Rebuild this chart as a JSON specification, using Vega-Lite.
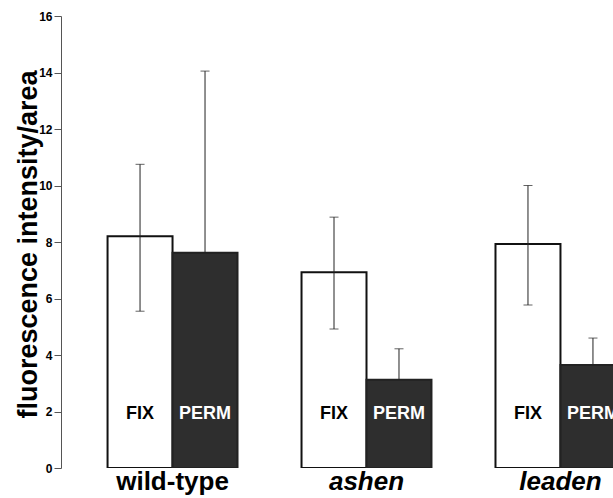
{
  "$schema": "https://vega.github.io/schema/vega-lite/v6.json",
  "width": 552,
  "height": 452,
  "autosize": {"type": "none"},
  "padding": {"left": 61, "top": 16, "right": 0, "bottom": 30},
  "background": "white",
  "config": {"view": {"stroke": null}, "font": "Liberation Sans"},
  "data": {
    "values": [
      {"group": "wild-type", "cond": "FIX", "value": 8.2, "lo": 5.55, "hi": 10.75},
      {"group": "wild-type", "cond": "PERM", "value": 7.62, "lo": 7.62, "hi": 14.05},
      {"group": "ashen", "cond": "FIX", "value": 6.93, "lo": 4.92, "hi": 8.88},
      {"group": "ashen", "cond": "PERM", "value": 3.12, "lo": 3.12, "hi": 4.22},
      {"group": "leaden", "cond": "FIX", "value": 7.93, "lo": 5.77, "hi": 10.0},
      {"group": "leaden", "cond": "PERM", "value": 3.65, "lo": 3.65, "hi": 4.6}
    ]
  },
  "encoding": {
    "x": {
      "field": "group",
      "type": "nominal",
      "sort": ["wild-type", "ashen", "leaden"],
      "scale": {"range": [0, 611], "paddingInner": 0.33, "paddingOuter": 0.24},
      "axis": {
        "title": null,
        "domain": false,
        "ticks": false,
        "labelAngle": 0,
        "labelFontSize": 26,
        "labelFontWeight": "bold",
        "labelColor": "black",
        "labelPadding": 0,
        "labelFontStyle": {"condition": {"test": "datum.value === 'wild-type'", "value": "normal"}, "value": "italic"}
      }
    },
    "xOffset": {
      "field": "cond",
      "type": "nominal",
      "sort": ["FIX", "PERM"],
      "scale": {"paddingInner": 0, "paddingOuter": 0}
    }
  },
  "layer": [
    {
      "mark": {"type": "bar", "clip": true, "strokeWidth": 2},
      "encoding": {
        "y": {
          "field": "value",
          "type": "quantitative",
          "title": "fluorescence intensity/area",
          "scale": {"domain": [0, 16], "nice": false},
          "axis": {
            "values": [0, 2, 4, 6, 8, 10, 12, 14, 16],
            "grid": false,
            "domainColor": "#555",
            "tickColor": "#555",
            "tickSize": 7,
            "labelFontSize": 12,
            "labelFontWeight": "bold",
            "labelColor": "black",
            "labelPadding": 2,
            "titleFontSize": 27,
            "titleFontWeight": "bold",
            "titleColor": "black",
            "titleX": -25,
            "titleY": 228,
            "titleAngle": -90,
            "titleBaseline": "alphabetic",
            "titleAlign": "center"
          }
        },
        "fill": {"field": "cond", "type": "nominal", "scale": {"domain": ["FIX", "PERM"], "range": ["white", "#2e2e2e"]}, "legend": null},
        "stroke": {"field": "cond", "type": "nominal", "scale": {"domain": ["FIX", "PERM"], "range": ["#111111", "#222222"]}, "legend": null}
      }
    },
    {
      "mark": {"type": "rule", "clip": true, "color": "#222", "strokeWidth": 1},
      "encoding": {
        "y": {"field": "lo", "type": "quantitative", "title": "fluorescence intensity/area"},
        "y2": {"field": "hi"}
      }
    },
    {
      "mark": {"type": "tick", "clip": true, "color": "#222", "size": 9, "thickness": 1},
      "encoding": {
        "y": {"field": "hi", "type": "quantitative", "title": "fluorescence intensity/area"}
      }
    },
    {
      "transform": [{"filter": "datum.cond === 'FIX'"}],
      "mark": {"type": "tick", "clip": true, "color": "#222", "size": 9, "thickness": 1},
      "encoding": {
        "y": {"field": "lo", "type": "quantitative", "title": "fluorescence intensity/area"}
      }
    },
    {
      "mark": {"type": "text", "clip": true, "fontSize": 18, "fontWeight": "bold", "baseline": "middle", "align": "center"},
      "encoding": {
        "y": {"datum": 1.9},
        "text": {"field": "cond"},
        "color": {"condition": {"test": "datum.cond === 'PERM'", "value": "white"}, "value": "black"}
      }
    }
  ]
}
